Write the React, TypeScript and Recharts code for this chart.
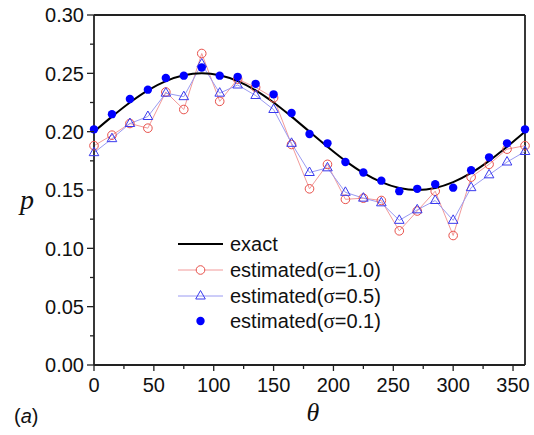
import { ComposedChart, Line, XAxis, YAxis, ReferenceLine } from 'recharts';

// angle samples (degrees)
const thetas = [0, 15, 30, 45, 60, 75, 90, 105, 120, 135, 150, 165, 180, 195, 210, 225, 240, 255, 270, 285, 300, 315, 330, 345, 360];

// exact curve
const exact = [0.2, 0.2129, 0.225, 0.2354, 0.2433, 0.2483, 0.25, 0.2483, 0.2433, 0.2354, 0.225, 0.2129, 0.2, 0.1871, 0.175, 0.1646, 0.1567, 0.1517, 0.15, 0.1517, 0.1567, 0.1646, 0.175, 0.1871, 0.2];

// estimated(σ=1.0) - red open circles
const sigma10 = [0.188, 0.197, 0.207, 0.203, 0.234, 0.219, 0.267, 0.226, 0.245, 0.238, 0.229, 0.189, 0.151, 0.172, 0.142, 0.143, 0.141, 0.115, 0.132, 0.149, 0.111, 0.161, 0.172, 0.185, 0.188];

// estimated(σ=0.5) - blue open triangles
const sigma05 = [0.182, 0.194, 0.207, 0.213, 0.233, 0.230, 0.258, 0.233, 0.240, 0.231, 0.219, 0.190, 0.165, 0.169, 0.148, 0.143, 0.139, 0.124, 0.133, 0.141, 0.124, 0.152, 0.163, 0.174, 0.183];

// estimated(σ=0.1) - solid blue dots
const sigma01 = [0.202, 0.215, 0.228, 0.236, 0.246, 0.248, 0.255, 0.248, 0.247, 0.241, 0.232, 0.216, 0.198, 0.190, 0.174, 0.165, 0.158, 0.149, 0.151, 0.155, 0.152, 0.167, 0.178, 0.190, 0.202];

const xTicks = [0, 25, 50, 75, 100, 125, 150, 175, 200, 225, 250, 275, 300, 325, 350];
const yTicks = [0, 0.025, 0.05, 0.075, 0.1, 0.125, 0.15, 0.175, 0.2, 0.225, 0.25, 0.275, 0.3];

const legendItems = ['exact', '1.0', '0.5', '0.1'];

const data = thetas.map((t, i) => ({
  theta: t,
  exact: exact[i],
  s10: sigma10[i],
  s05: sigma05[i],
  s01: sigma01[i],
}));

const AXIS = '#222';
const FONT = '"Liberation Sans", Arial, sans-serif';
const SERIF = '"Liberation Serif", "Times New Roman", serif';
const RED_LINE = '#f29a9a';
const RED_MARK = '#e8504a';
const BLUE_LINE = '#9a9af2';
const BLUE_MARK = '#3a3aee';
const DOT_BLUE = '#0000ff';

const XTick = (props: any) => {
  const { x, y, payload } = props;
  const major = payload.value % 50 === 0;
  return (
    <g>
      <line x1={x} x2={x} y1={y} y2={y + (major ? 6 : 4)} stroke={AXIS} strokeWidth={1.3} />
      {major && (
        <text x={x} y={y + 27} textAnchor="middle" fontSize={20} fontFamily={FONT} fill="#111">
          {payload.value}
        </text>
      )}
    </g>
  );
};

const YTick = (props: any) => {
  const { x, y, payload } = props;
  const major = Math.round(payload.value * 1000) % 50 === 0;
  return (
    <g>
      <line x1={x} x2={x - (major ? 7 : 4)} y1={y} y2={y} stroke={AXIS} strokeWidth={1.3} />
      {major && (
        <text x={x - 10} y={y} dy="0.36em" textAnchor="end" fontSize={20} fontFamily={FONT} fill="#111">
          {payload.value.toFixed(2)}
        </text>
      )}
    </g>
  );
};

const Triangle = (props: any) => {
  const { cx, cy, index } = props;
  if (cx == null || cy == null) return <g key={index} />;
  return (
    <polygon
      key={index}
      points={`${cx},${cy - 5.5} ${cx - 4.8},${cy + 3} ${cx + 4.8},${cy + 3}`}
      fill="none"
      stroke={BLUE_MARK}
      strokeWidth={1}
    />
  );
};

function Legend() {
  const x0 = 178;
  const x1 = 223;
  const tx = 230;
  const rows = [244, 270, 296, 321];
  return (
    <svg width={534} height={435} style={{ position: 'absolute', left: 0, top: 0, pointerEvents: 'none' }}>
      {/* exact */}
      <line x1={x0} x2={x1} y1={rows[0]} y2={rows[0]} stroke="#000" strokeWidth={2} />
      {/* sigma 1.0 */}
      <line x1={x0} x2={x1} y1={rows[1]} y2={rows[1]} stroke={RED_LINE} strokeWidth={1} />
      <circle cx={(x0 + x1) / 2} cy={rows[1]} r={4.3} fill="#fff" stroke={RED_MARK} strokeWidth={1} />
      {/* sigma 0.5 */}
      <line x1={x0} x2={x1} y1={rows[2]} y2={rows[2]} stroke={BLUE_LINE} strokeWidth={1} />
      <Triangle cx={(x0 + x1) / 2} cy={rows[2]} index={0} />
      {/* sigma 0.1 */}
      <circle cx={(x0 + x1) / 2} cy={rows[3]} r={4.2} fill={DOT_BLUE} />
      {legendItems.map((s, i) => (
        <text key={s} x={tx} y={rows[i]} dy="0.36em" fontSize={20} fontFamily={FONT} fill="#111">
          {i === 0 ? (
            s
          ) : (
            <>
              estimated(<tspan fontFamily={SERIF} fontSize={21}>σ</tspan>={s})
            </>
          )}
        </text>
      ))}
      {/* axis titles */}
      <text x={27} y={209} fontSize={28} fontStyle="italic" fontFamily={SERIF} fill="#111" textAnchor="middle">
        p
      </text>
      <text x={313} y={421} fontSize={26} fontStyle="italic" fontFamily={SERIF} fill="#111" textAnchor="middle">
        θ
      </text>
      <text x={14} y={423} fontSize={20} fontFamily={FONT} fill="#111">
        (<tspan fontStyle="italic">a</tspan>)
      </text>
    </svg>
  );
}

export default function App() {
  return (
    <div style={{ position: 'absolute', left: 0, top: 0, width: 534, height: 435, background: '#fff' }}>
      <ComposedChart
        width={534}
        height={435}
        data={data}
        margin={{ top: 15, right: 9, bottom: 40, left: 0 }}
      >
        <XAxis
          dataKey="theta"
          type="number"
          domain={[0, 360]}
          ticks={xTicks}
          tick={<XTick />}
          tickLine={false}
          tickSize={0}
          tickMargin={0}
          height={30}
          axisLine={{ stroke: AXIS, strokeWidth: 1.8 }}
          interval={0}
        />
        <YAxis
          type="number"
          domain={[0, 0.3]}
          ticks={yTicks}
          tick={<YTick />}
          tickLine={false}
          tickSize={0}
          tickMargin={0}
          width={94}
          axisLine={{ stroke: AXIS, strokeWidth: 1.8 }}
          interval={0}
        />
        <ReferenceLine y={0.3} stroke={AXIS} strokeWidth={1.8} />
        <ReferenceLine x={360} stroke={AXIS} strokeWidth={1.8} />
        <Line
          dataKey="s10"
          type="linear"
          stroke={RED_LINE}
          strokeWidth={1}
          dot={{ r: 4.3, fill: 'none', stroke: RED_MARK, strokeWidth: 1 }}
          activeDot={false}
          isAnimationActive={false}
        />
        <Line
          dataKey="s05"
          type="linear"
          stroke={BLUE_LINE}
          strokeWidth={1}
          dot={<Triangle />}
          activeDot={false}
          isAnimationActive={false}
        />
        <Line
          dataKey="exact"
          type="monotone"
          stroke="#000"
          strokeWidth={2}
          dot={false}
          activeDot={false}
          isAnimationActive={false}
        />
        <Line
          dataKey="s01"
          type="linear"
          stroke="none"
          strokeWidth={0}
          dot={{ r: 4.2, fill: DOT_BLUE, stroke: 'none' }}
          activeDot={false}
          isAnimationActive={false}
        />
      </ComposedChart>
      <Legend />
    </div>
  );
}
